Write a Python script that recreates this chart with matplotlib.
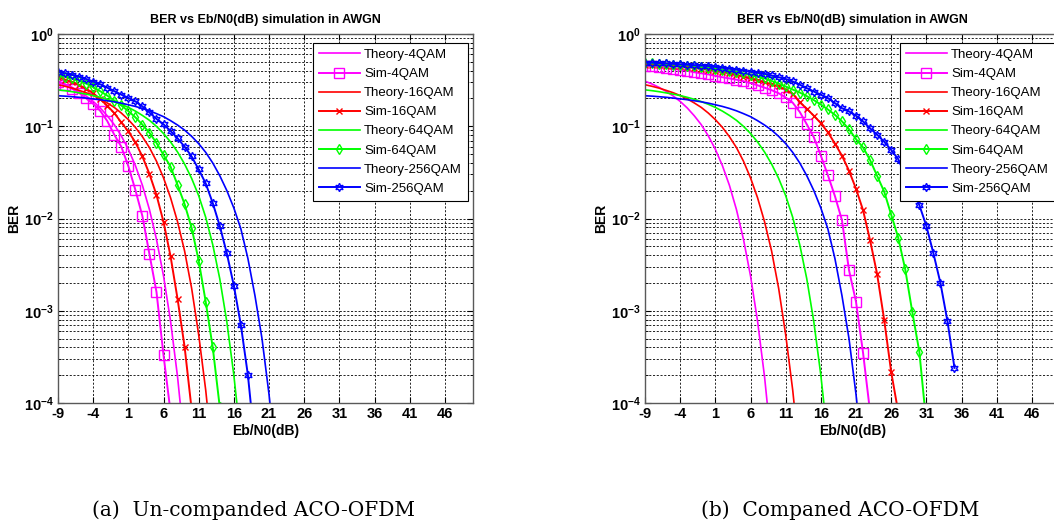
import math
import matplotlib
matplotlib.use('Agg')
import matplotlib.pyplot as plt
from matplotlib.ticker import LogLocator, FuncFormatter, NullFormatter

plt.rcParams['font.family'] = ['Liberation Sans', 'DejaVu Sans']
plt.rcParams['mathtext.fontset'] = 'custom'
plt.rcParams['mathtext.bf'] = 'Liberation Sans:bold'
plt.rcParams['mathtext.rm'] = 'Liberation Sans'

# Eb/N0 grid (dB), every series starts at -9 dB with 1 dB steps
ebn0 = list(range(-9, 36))

# theoretical curves
theory_4qam = [0.308, 0.287, 0.264, 0.239, 0.213, 0.186, 0.158, 0.130, 0.104, 0.0786,
               0.0563, 0.0375, 0.0229, 0.0125, 0.00595, 0.00239, 7.73e-4, 1.91e-4, 3.36e-5]
theory_16qam = [0.282, 0.271, 0.259, 0.245, 0.231, 0.215, 0.198, 0.179, 0.160, 0.139,
                0.118, 0.0973, 0.0771, 0.0587, 0.0418, 0.0276, 0.0168, 0.0092, 0.00443,
                0.00175, 5.5e-4, 1.38e-4, 2.5e-5]
theory_64qam = [0.248, 0.243, 0.237, 0.230, 0.223, 0.215, 0.206, 0.196, 0.185, 0.173,
                0.160, 0.146, 0.131, 0.116, 0.0997, 0.0835, 0.0676, 0.0525, 0.0389, 0.0272,
                0.0177, 0.0103, 0.0052, 0.00222, 7.6e-4, 2.0e-4, 3.9e-5]
theory_256qam = [0.214, 0.212, 0.209, 0.206, 0.202, 0.198, 0.194, 0.189, 0.184, 0.178,
                 0.171, 0.164, 0.156, 0.147, 0.137, 0.127, 0.115, 0.103, 0.0908, 0.0777,
                 0.0648, 0.0521, 0.040, 0.0291, 0.0201, 0.0130, 0.00771, 0.00368, 0.00146,
                 5.0e-4, 1.24e-4, 2.3e-5]

# simulated, un-companded ACO-OFDM
unc_4qam = [0.30, 0.28, 0.255, 0.23, 0.20, 0.175, 0.147, 0.114, 0.081, 0.060,
            0.037, 0.0204, 0.0106, 0.0041, 0.0016, 3.3e-4, 8e-5]
unc_16qam = [0.34, 0.32, 0.30, 0.28, 0.255, 0.228, 0.197, 0.167, 0.139, 0.11,
             0.088, 0.067, 0.047, 0.0304, 0.018, 0.0092, 0.0039, 0.00134, 4.06e-4, 8.5e-5]
unc_64qam = [0.36, 0.345, 0.33, 0.31, 0.29, 0.265, 0.24, 0.215, 0.19, 0.168,
             0.146, 0.125, 0.104, 0.085, 0.066, 0.049, 0.0365, 0.0231, 0.0143, 0.0079,
             0.0035, 0.00125, 4.0e-4, 9e-5]
unc_256qam = [0.39, 0.375, 0.36, 0.345, 0.325, 0.305, 0.285, 0.262, 0.24, 0.22,
              0.203, 0.186, 0.164, 0.141, 0.12, 0.105, 0.089, 0.074, 0.06, 0.047,
              0.034, 0.024, 0.0147, 0.0083, 0.0042, 0.00187, 7.0e-4, 2.0e-4, 3.5e-5]

# simulated, companded ACO-OFDM
cmp_4qam = [0.45, 0.445, 0.44, 0.43, 0.42, 0.41, 0.40, 0.385, 0.375, 0.365,
            0.352, 0.34, 0.33, 0.32, 0.308, 0.294, 0.278, 0.262, 0.246, 0.228,
            0.205, 0.18, 0.143, 0.105, 0.076, 0.048, 0.0295, 0.0175, 0.0096, 0.00276,
            0.00125, 3.5e-4, 8e-5]
cmp_16qam = [0.465, 0.46, 0.46, 0.455, 0.45, 0.445, 0.44, 0.43, 0.42, 0.41,
             0.40, 0.39, 0.375, 0.36, 0.345, 0.33, 0.315, 0.30, 0.285, 0.27,
             0.25, 0.225, 0.182, 0.155, 0.13, 0.108, 0.086, 0.065, 0.048, 0.033,
             0.021, 0.0123, 0.0058, 0.0025, 8e-4, 2.17e-4, 8e-5]
cmp_64qam = [0.485, 0.48, 0.475, 0.47, 0.465, 0.46, 0.455, 0.45, 0.44, 0.43,
             0.42, 0.41, 0.40, 0.39, 0.375, 0.36, 0.345, 0.33, 0.31, 0.29,
             0.27, 0.25, 0.232, 0.212, 0.192, 0.172, 0.152, 0.133, 0.113, 0.093,
             0.0724, 0.059, 0.043, 0.029, 0.0196, 0.011, 0.0062, 0.0028, 9.7e-4, 3.6e-4,
             6e-5]
cmp_256qam = [0.49, 0.49, 0.485, 0.48, 0.475, 0.47, 0.465, 0.46, 0.455, 0.45,
              0.44, 0.43, 0.42, 0.41, 0.40, 0.39, 0.38, 0.37, 0.355, 0.34,
              0.325, 0.306, 0.282, 0.259, 0.238, 0.219, 0.202, 0.178, 0.157, 0.145,
              0.13, 0.113, 0.095, 0.081, 0.068, 0.0554, 0.044, 0.0295, 0.0204, 0.014,
              0.0083, 0.0042, 0.002, 7.7e-4, 2.4e-4]

x_ticks = list(range(-9, 47, 5))
orders = ['4QAM', '16QAM', '64QAM', '256QAM']
colors = ['#ff00ff', '#ff0000', '#00ff00', '#0000ff']
markers = [('s', 6.5), ('x', 4), ('d', 5.5), ((6, 1, 0), 6)]
theory = [theory_4qam, theory_16qam, theory_64qam, theory_256qam]


def ytick_label(v, pos):
    exp = int(round(math.log10(v)))
    return r'$\mathbf{10^{%d}}$' % exp


def draw_panel(ax, sims):
    for name, col, (mk, ms), th, sim in zip(orders, colors, markers, theory, sims):
        ax.semilogy(ebn0[:len(th)], th, '-', color=col, lw=1.2, label='Theory-' + name)
        ax.semilogy(ebn0[:len(sim)], sim, '-', color=col, lw=1.4, marker=mk, ms=ms,
                    mfc='none', mew=1.0, label='Sim-' + name)
    ax.set_xlim(-9, 50)
    ax.set_ylim(1e-4, 1)
    ax.set_xticks(x_ticks)
    ax.set_xticklabels([str(t) for t in x_ticks])
    ax.yaxis.set_major_locator(LogLocator(base=10))
    ax.yaxis.set_minor_locator(LogLocator(base=10, subs=range(2, 10)))
    ax.yaxis.set_major_formatter(FuncFormatter(ytick_label))
    ax.yaxis.set_minor_formatter(NullFormatter())
    ax.tick_params(which='both', direction='in', top=True, right=True, labelsize=10.5)
    ax.tick_params(which='major', length=4, pad=3)
    ax.tick_params(which='minor', length=2)
    for lab in ax.get_xticklabels():
        lab.set_fontweight('bold')
    grid_style = dict(color='k', lw=0.6, linestyle=(0, (2.5, 2)))
    ax.grid(True, which='major', **grid_style)
    ax.grid(True, which='minor', axis='y', **grid_style)
    for sp in ax.spines.values():
        sp.set_color('0.35')
        sp.set_linewidth(1.0)
    ax.set_title('BER vs Eb/N0(dB) simulation in AWGN', fontsize=9, fontweight='bold', pad=8)
    ax.set_xlabel('Eb/N0(dB)', fontsize=10, fontweight='bold', labelpad=2)
    ax.set_ylabel('BER', fontsize=10, fontweight='bold', labelpad=2)
    leg = ax.legend(loc='upper right', bbox_to_anchor=(0.988, 0.976), borderaxespad=0,
                    fontsize=9.5, handlelength=3.1, handletextpad=0.35, labelspacing=0.52,
                    borderpad=0.45, fancybox=False, framealpha=1, edgecolor='k')
    leg.get_frame().set_linewidth(0.8)


fig = plt.figure(figsize=(10.54, 5.22), dpi=100)
w = 415 / 1054
h = 369 / 522
b = (522 - 403) / 522
ax1 = fig.add_axes([58 / 1054, b, w, h])
ax2 = fig.add_axes([645 / 1054, b, w, h])

draw_panel(ax1, [unc_4qam, unc_16qam, unc_64qam, unc_256qam])
draw_panel(ax2, [cmp_4qam, cmp_16qam, cmp_64qam, cmp_256qam])

cap_font = dict(family='DejaVu Serif', fontsize=14.5, va='center', ha='center')
fig.text(253 / 1054, (522 - 510) / 522, '(a)  Un-companded ACO-OFDM', **cap_font)
fig.text(840 / 1054, (522 - 510) / 522, '(b)  Companed ACO-OFDM', **cap_font)

fig.savefig('out.png', dpi=100)
